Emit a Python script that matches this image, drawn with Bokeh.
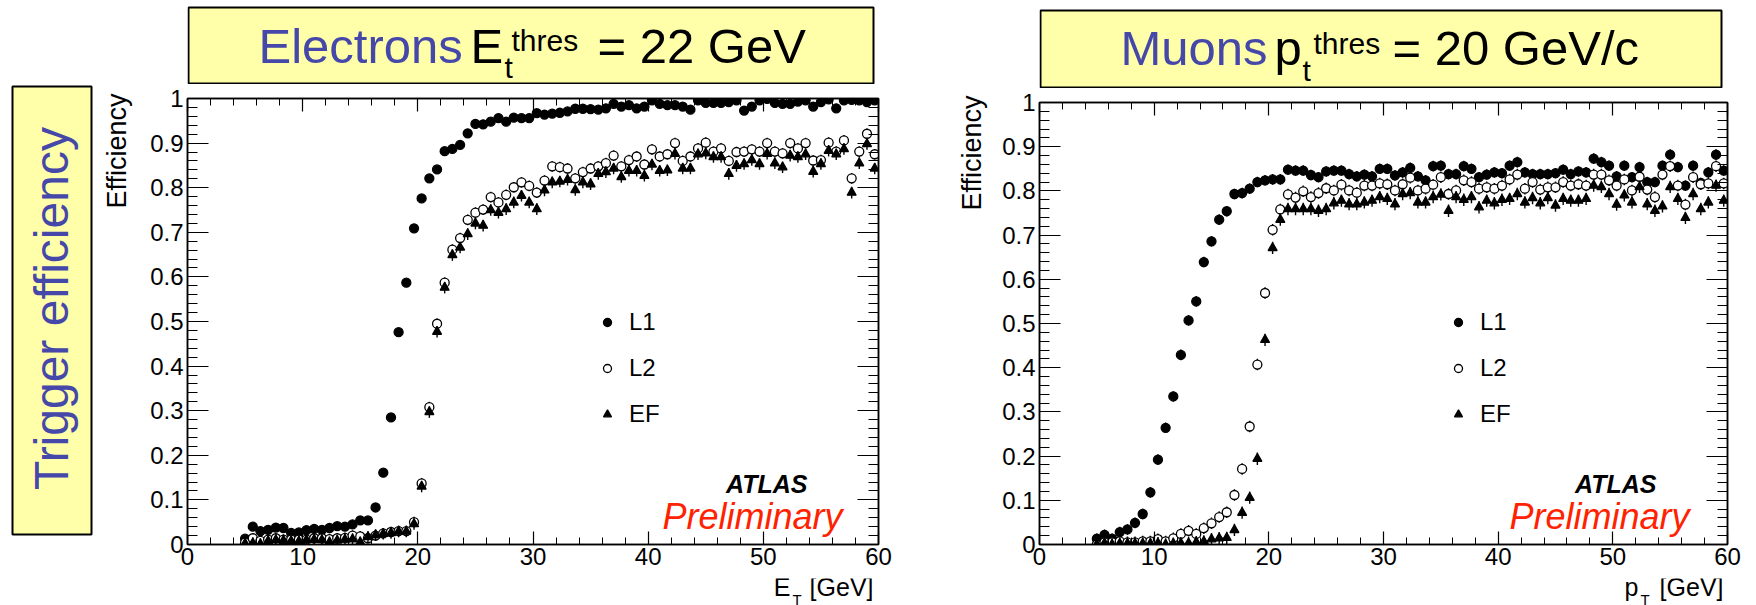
import math
from bokeh.plotting import figure
from bokeh.layouts import row, column
from bokeh.models import (Range1d, FixedTicker, LinearAxis, Label,
                          Legend, LegendItem, CustomJSTickFormatter)
from bokeh.embed import file_html
from bokeh.resources import INLINE

FONT = "Liberation Sans"
BLUE = "#4548a8"
YELLOW = "#ffffaa"
RED = "#ff2200"

# ---------------- data ----------------
# bin centres (2/3 GeV bins) shared by both histograms
bin_centers = [5.0, 5.67, 6.33, 7.0, 7.67, 8.33, 9.0, 9.67, 10.33, 11.0,
               11.67, 12.33, 13.0, 13.67, 14.33, 15.0, 15.67, 16.33, 17.0, 17.67,
               18.33, 19.0, 19.67, 20.33, 21.0, 21.67, 22.33, 23.0, 23.67, 24.33,
               25.0, 25.67, 26.33, 27.0, 27.67, 28.33, 29.0, 29.67, 30.33, 31.0,
               31.67, 32.33, 33.0, 33.67, 34.33, 35.0, 35.67, 36.33, 37.0, 37.67,
               38.33, 39.0, 39.67, 40.33, 41.0, 41.67, 42.33, 43.0, 43.67, 44.33,
               45.0, 45.67, 46.33, 47.0, 47.67, 48.33, 49.0, 49.67, 50.33, 51.0,
               51.67, 52.33, 53.0, 53.67, 54.33, 55.0, 55.67, 56.33, 57.0, 57.67,
               58.33, 59.0, 59.67]

# Electrons, E_T threshold 22 GeV
ele_L1 = [0.013, 0.040, 0.030, 0.033, 0.038, 0.037, 0.026, 0.027, 0.032, 0.035,
          0.033, 0.037, 0.041, 0.040, 0.045, 0.054, 0.054, 0.083, 0.161, 0.285,
          0.476,
          0.587, 0.709, 0.776, 0.821, 0.841, 0.882, 0.887, 0.896, 0.922, 0.943,
          0.942, 0.948, 0.956, 0.948, 0.957, 0.956, 0.956, 0.967, 0.964, 0.966,
          0.968, 0.971, 0.977, 0.977, 0.976, 0.975, 0.978, 0.988, 0.982, 0.985,
          0.978, 0.982, 0.996, 0.988, 0.985, 0.985, 0.982, 0.975, 0.996, 0.990,
          0.990, 0.990, 0.992, 0.996, 0.973, 0.982, 0.996, 0.999, 0.990, 0.988,
          0.988, 0.993, 0.996, 0.982, 0.992, 0.998, 0.978, 0.996, 0.997, 0.996,
          0.992, 0.996]
ele_L2 = [0.004, 0.014, 0.008, 0.011, 0.014, 0.011, 0.011, 0.011, 0.011, 0.014,
          0.014, 0.012, 0.014, 0.015, 0.020, 0.018, 0.014, 0.020, 0.025, 0.028,
          0.030, 0.030, 0.050,
          0.137, 0.308, 0.495, 0.587,
          0.661, 0.687, 0.728, 0.744, 0.751, 0.779, 0.767, 0.784, 0.801, 0.812,
          0.804, 0.789, 0.816, 0.848, 0.846, 0.843, 0.821, 0.835, 0.843, 0.848,
          0.855, 0.872, 0.848, 0.862, 0.870, 0.852, 0.886, 0.870, 0.875, 0.900,
          0.860, 0.870, 0.888, 0.901, 0.881, 0.888, 0.860, 0.880, 0.881, 0.886,
          0.881, 0.900, 0.881, 0.877, 0.900, 0.888, 0.900, 0.861, 0.862, 0.901,
          0.881, 0.906, 0.821, 0.881, 0.921, 0.875]
ele_EF = [0.002, 0.003, 0.001, 0.008, 0.010, 0.009, 0.008, 0.007, 0.010, 0.011,
          0.010, 0.005, 0.009, 0.011, 0.012, 0.005, 0.017, 0.021, 0.024, 0.026,
          0.029, 0.029, 0.046,
          0.130, 0.297, 0.477, 0.576,
          0.649, 0.666, 0.696, 0.720, 0.715, 0.750, 0.744, 0.752, 0.767, 0.782,
          0.767, 0.752, 0.794, 0.812, 0.814, 0.818, 0.795, 0.812, 0.808, 0.831,
          0.835, 0.843, 0.824, 0.838, 0.838, 0.827, 0.852, 0.838, 0.839, 0.876,
          0.843, 0.843, 0.875, 0.877, 0.869, 0.869, 0.831, 0.849, 0.853, 0.862,
          0.853, 0.876, 0.855, 0.846, 0.872, 0.869, 0.875, 0.836, 0.853, 0.883,
          0.875, 0.887, 0.789, 0.855, 0.898, 0.843]

# Muons, p_T threshold 20 GeV/c
muo_L1 = [0.013, 0.022, 0.013, 0.028, 0.034, 0.049, 0.069, 0.118, 0.192, 0.264,
          0.335, 0.429, 0.507, 0.550,
          0.639, 0.686, 0.735, 0.754, 0.793, 0.795, 0.805, 0.820, 0.824, 0.826,
          0.826, 0.848, 0.846, 0.846, 0.836, 0.831, 0.844, 0.846, 0.846, 0.838,
          0.833, 0.837, 0.833, 0.850, 0.850, 0.835, 0.842, 0.852, 0.833, 0.824,
          0.856, 0.857, 0.838, 0.838, 0.856, 0.850, 0.831, 0.837, 0.842, 0.840,
          0.857, 0.865, 0.842, 0.838, 0.838, 0.838, 0.840, 0.848, 0.838, 0.844,
          0.842, 0.873, 0.865, 0.857, 0.833, 0.857, 0.831, 0.854, 0.820, 0.820,
          0.857, 0.882, 0.854, 0.812, 0.857, 0.818, 0.842, 0.882, 0.846]
muo_L2 = [0.000, 0.005, 0.005, 0.007, 0.005, 0.005, 0.007, 0.007, 0.012, 0.007,
          0.014, 0.024, 0.031, 0.024, 0.037, 0.048, 0.062, 0.073, 0.112, 0.171,
          0.267, 0.407,
          0.569, 0.712, 0.758, 0.792, 0.785, 0.799, 0.786, 0.795, 0.806, 0.801,
          0.814, 0.801, 0.796, 0.812, 0.812, 0.817, 0.815, 0.801, 0.815, 0.830,
          0.801, 0.805, 0.814, 0.831, 0.793, 0.801, 0.824, 0.820, 0.805, 0.808,
          0.805, 0.812, 0.826, 0.837, 0.805, 0.820, 0.803, 0.808, 0.808, 0.820,
          0.812, 0.815, 0.812, 0.837, 0.837, 0.824, 0.812, 0.826, 0.801, 0.832,
          0.803, 0.786, 0.837, 0.856, 0.812, 0.769, 0.831, 0.815, 0.817, 0.856,
          0.817]
muo_EF = [0.000, 0.003, 0.000, 0.002, 0.002, 0.002, 0.002, 0.002, 0.003, 0.000,
          0.002, 0.003, 0.003, 0.005, 0.007, 0.012, 0.014, 0.015, 0.033, 0.072,
          0.106, 0.194, 0.463,
          0.671, 0.735, 0.759, 0.759, 0.759, 0.759, 0.755, 0.759, 0.772, 0.778,
          0.770, 0.770, 0.774, 0.778, 0.786, 0.782, 0.770, 0.793, 0.795, 0.774,
          0.774, 0.786, 0.792, 0.755, 0.786, 0.780, 0.786, 0.763, 0.778, 0.772,
          0.780, 0.782, 0.793, 0.774, 0.784, 0.772, 0.784, 0.767, 0.782, 0.778,
          0.778, 0.782, 0.812, 0.809, 0.793, 0.769, 0.790, 0.774, 0.809, 0.770,
          0.755, 0.765, 0.809, 0.782, 0.739, 0.793, 0.759, 0.774, 0.812, 0.778]

# approximate half-length of the error bars per series
ele_err = {"L1": 0.005, "L2": 0.012, "EF": 0.013}
muo_err = {"L1": 0.012, "L2": 0.013, "EF": 0.014}

series_names = ["L1", "L2", "EF"]

x_ticks = [0, 10, 20, 30, 40, 50, 60]
x_tick_labels = ["0", "10", "20", "30", "40", "50", "60"]
x_minor = [0, 2, 4, 6, 8, 10, 12, 14, 16, 18, 20, 22, 24, 26, 28, 30, 32, 34, 36,
           38, 40, 42, 44, 46, 48, 50, 52, 54, 56, 58, 60]
y_ticks = [0, 0.1, 0.2, 0.3, 0.4, 0.5, 0.6, 0.7, 0.8, 0.9, 1.0]
y_tick_labels = ["0", "0.1", "0.2", "0.3", "0.4", "0.5", "0.6", "0.7", "0.8", "0.9", "1"]
y_minor = [i / 50 for i in range(51)]

H = 605
SHIFT = 0.35  # baseline correction (fraction of font size)
TITLE_PX = 49
SUP_PX = 30


def lab(p, x, y, text, size, color="black", align="left", style="normal",
        rotated=False, units="data"):
    """y (or x when rotated) is the wanted text baseline."""
    if rotated:
        x = x - SHIFT * size
        angle = math.pi / 2
    else:
        y = y + SHIFT * size
        angle = 0.0
    p.add_layout(Label(x=x, y=y, x_units=units, y_units=units, text=text,
                       text_font=FONT, text_font_size=f"{size}px", text_color=color,
                       text_align=align, text_baseline="alphabetic",
                       text_font_style=style, angle=angle))


def deco_fig(w, h, bl=0, br=0):
    p = figure(width=w, height=h, x_range=Range1d(0, w - bl - br), y_range=Range1d(0, h),
               x_axis_type=None, y_axis_type=None, toolbar_location=None,
               output_backend="svg", min_border=0,
               min_border_left=bl, min_border_right=br,
               min_border_top=0, min_border_bottom=0, outline_line_color=None,
               background_fill_color="white", border_fill_color="white")
    return p


def style_axis(ax, ticks, minor, labels, tick_len, standoff, show):
    ax.ticker = FixedTicker(ticks=ticks, minor_ticks=minor)
    ax.axis_line_color = "black"
    ax.axis_line_width = 1.5
    ax.major_tick_in = int(round(tick_len))
    ax.major_tick_out = 0
    ax.minor_tick_in = int(round(tick_len / 2))
    ax.minor_tick_out = 0
    ax.major_tick_line_color = "black"
    ax.major_tick_line_width = 1.2
    ax.minor_tick_line_color = "black"
    ax.minor_tick_line_width = 1.0
    ax.axis_label = None
    if show:
        ax.major_label_overrides = dict(zip(ticks, labels))
        ax.major_label_text_font = FONT
        ax.major_label_text_font_size = "24px"
        ax.major_label_text_color = "black"
        ax.major_label_standoff = standoff
    else:
        ax.formatter = CustomJSTickFormatter(code="return ''")
        ax.major_label_text_font_size = "1px"
        ax.major_label_standoff = 0


def data_fig(width, height, bl, br, bt, bb, values, errs, legend_x, atlas_x, prelim_x):
    p = figure(width=width, height=height, x_range=Range1d(0, 60), y_range=Range1d(0, 1),
               output_backend="svg", toolbar_location=None,
               min_border_left=bl, min_border_right=br,
               min_border_top=bt, min_border_bottom=bb,
               background_fill_color="white", border_fill_color="white")
    p.grid.visible = False
    p.outline_line_color = "black"
    p.outline_line_width = 1.5
    fw = width - bl - br
    fh = height - bt - bb

    style_axis(p.xaxis[0], x_ticks, x_minor, x_tick_labels, 0.03 * fh, 3, True)
    style_axis(p.yaxis[0], y_ticks, y_minor, y_tick_labels, 0.03 * fw, 4, True)
    top_ax = LinearAxis()
    style_axis(top_ax, x_ticks, x_minor, x_tick_labels, 0.03 * fh, 0, False)
    p.add_layout(top_ax, "above")
    right_ax = LinearAxis()
    style_axis(right_ax, y_ticks, y_minor, y_tick_labels, 0.03 * fw, 0, False)
    p.add_layout(right_ax, "right")

    markers = {"L1": ("circle", "black", 9), "L2": ("circle", "white", 9),
               "EF": ("triangle", "black", 9)}
    renderers = {}
    for name in series_names:
        y = values[name]
        e = errs[name]
        lo = [max(v - e, 0.0) for v in y]
        hi = [min(v + e, 1.0) for v in y]
        p.segment(x0=bin_centers, y0=lo, x1=bin_centers, y1=hi,
                  line_color="black", line_width=1.4)
        m, fill, sz = markers[name]
        renderers[name] = p.scatter(x=bin_centers, y=y, marker=m, size=sz,
                                    fill_color=fill, line_color="black",
                                    line_width=1.3)

    legend = Legend(items=[LegendItem(label=n, renderers=[renderers[n]]) for n in series_names],
                    location=(legend_x, 115), border_line_color=None,
                    background_fill_alpha=0, padding=0, margin=0, spacing=16,
                    glyph_width=20, glyph_height=30, label_height=30,
                    label_standoff=12, label_text_font=FONT,
                    label_text_font_size="24px", label_text_color="black")
    p.add_layout(legend)

    lab(p, atlas_x, 52, "ATLAS", 25, align="right", style="bold italic", units="screen")
    lab(p, prelim_x, 15, "Preliminary", 36, RED, style="italic", units="screen")
    return p


def title_fig(w, h, bl, br, box, base, word, word_x, sym, sym_x, sub_x, sup_x, rest, rest_x):
    p = deco_fig(w, h, bl, br)
    # box: (left, right, top, bottom); top/bottom and baselines measured from figure top
    p.quad(left=[box[0]], right=[box[1]], top=[h - box[2]], bottom=[h - box[3]],
           fill_color=YELLOW, line_color="black", line_width=2)
    main_b, sub_b, sup_b = base
    lab(p, word_x, h - main_b, word, TITLE_PX, BLUE)
    lab(p, sym_x, h - main_b, sym, TITLE_PX)
    lab(p, sub_x, h - sub_b, "t", SUP_PX)
    lab(p, sup_x, h - sup_b, "thres", SUP_PX)
    lab(p, rest_x, h - main_b, rest, TITLE_PX)
    return p


def xtitle_fig(w, h, bl, br, sym, sym_right, gev_right):
    p = deco_fig(w, h, bl, br)
    lab(p, sym_right, 10, sym, 25, align="right")
    lab(p, sym_right + 2, 1, "T", 15)
    lab(p, gev_right, 10, "[GeV]", 25, align="right")
    return p


# ----- left block (frame x 187..878, y 98..544) -----
strip_L = deco_fig(140, H)
strip_L.quad(left=[12], right=[91], top=[H - 86], bottom=[H - 534],
             fill_color=YELLOW, line_color="black", line_width=2)
lab(strip_L, 68, H - 308, "Trigger efficiency", 48, BLUE, align="center", rotated=True)
lab(strip_L, 126, H - 93, "Efficiency", 27, align="right", rotated=True)

title_L = title_fig(790, 84, 47, 52, (1, 686, 7, 83), (63, 77, 50),
                    "Electrons", 71, "E", 283, 317, 324, "= 22 GeV", 410)
plot_L = data_fig(790, 494, 47, 52, 14, 34,
                  {"L1": ele_L1, "L2": ele_L2, "EF": ele_EF}, ele_err, 410, 620, 475)
xt_L = xtitle_fig(790, 27, 47, 52, "E", 603, 686)

# ----- right block (frame x 1039..1727, y 102..544) -----
strip_R = deco_fig(65, H)
lab(strip_R, 51, H - 95, "Efficiency", 27, align="right", rotated=True)

title_R = title_fig(761, 88, 44, 29, (1, 682, 10, 87), (65, 80, 53),
                    "Muons", 81, "p", 235, 263, 274, "= 20 GeV/c", 353)
plot_R = data_fig(761, 490, 44, 29, 14, 34,
                  {"L1": muo_L1, "L2": muo_L2, "EF": muo_EF}, muo_err, 409, 617, 470)
xt_R = xtitle_fig(761, 27, 44, 29, "p", 599, 684)

layout = row(strip_L, column(title_L, plot_L, xt_L), strip_R,
             column(title_R, plot_R, xt_R))
open("out.html", "w").write(file_html(layout, INLINE))
